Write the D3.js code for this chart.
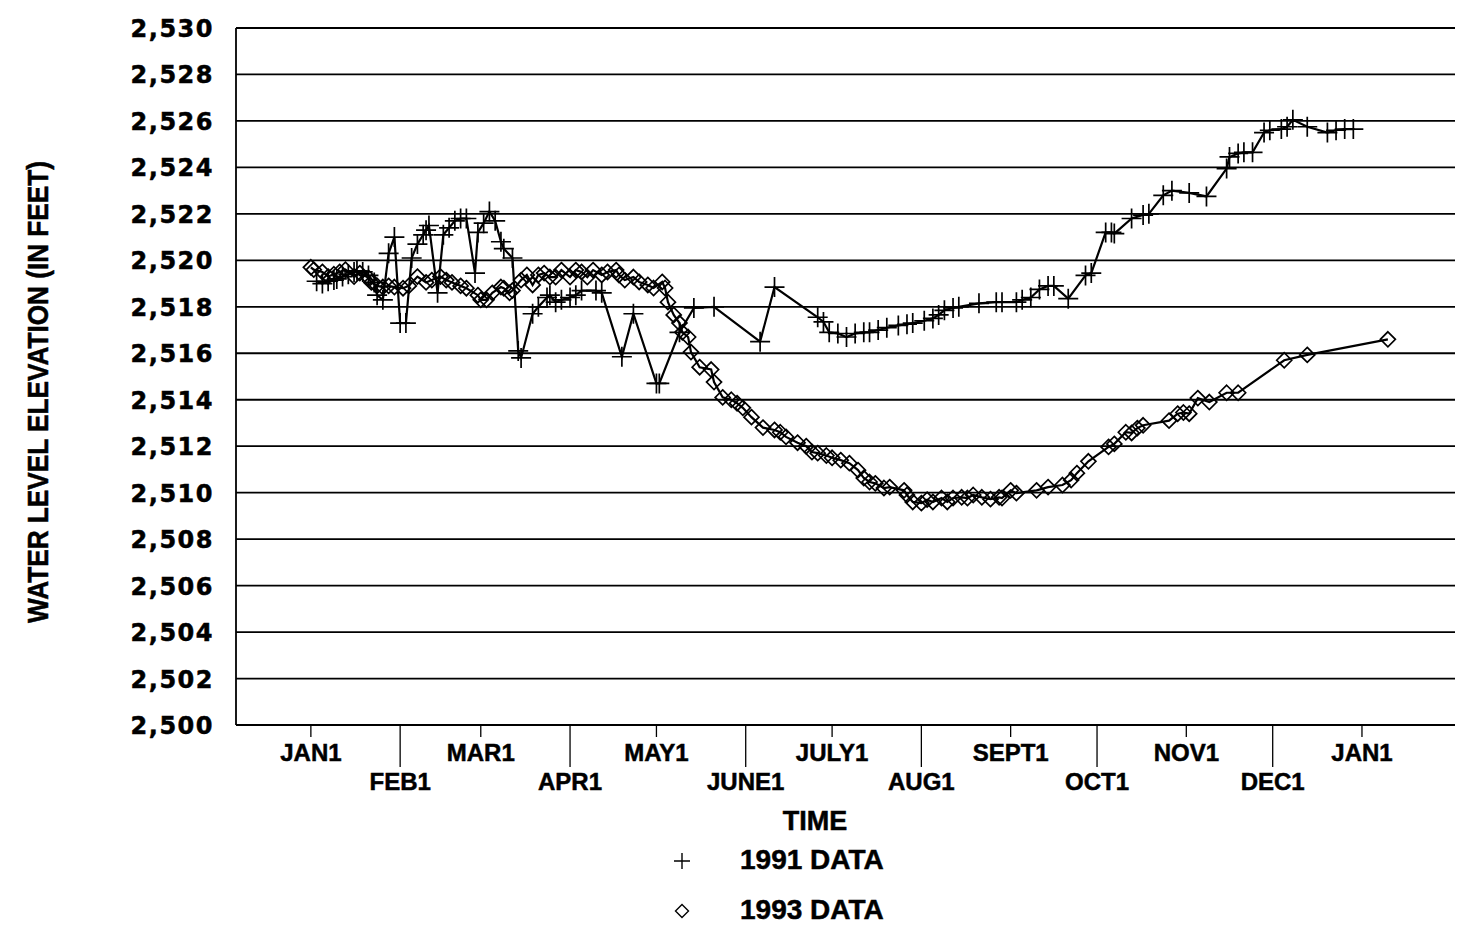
<!DOCTYPE html>
<html lang="en">
<head>
<meta charset="utf-8">
<title>Water level elevation, 1991 and 1993</title>
<script src="https://cdn.jsdelivr.net/npm/d3@7"></script>
<style>
  body { margin: 0; background: #fff; }
  text { font-family: "Liberation Sans", Arial, sans-serif; font-weight: bold; fill: #000;
         stroke: #000; stroke-width: 0.5px; }
</style>
</head>
<body>
<script>
// days after Jan 1 and water level (ft) for each year
var days1991 = [2,4,6,8,9,11,13,15,16,18, 20,22,23,25,27,29,31,33,35,37,
  39,40,41,44,46,48,50,52,54,57, 58,60,62,64,66,67,70,72,73,77,
  79,82,83,85,87,90,92,94,99,101, 108,112,120,121,128,133,140,156,161,176,
  178,180,183,186,189,192,194,197,200,204, 207,209,213,216,218,220,223,225,232,238,
  240,245,247,250,253,256,258,263,269,271, 276,278,279,285,289,291,296,299,305,311,
  318,319,322,324,327,331,333,337,339,341, 346,353,356,359,362];
var level1991 = [2519.1,2519.0,2519.1,2519.15,2519.2,2519.3,2519.4,2519.5,2519.55,2519.5,
  2519.35,2519.05,2518.5,2518.3,2520.3,2521.0,2517.3,2517.3,2520.1,2520.7,
  2521.1,2521.3,2521.5,2518.6,2521.1,2521.4,2521.7,2521.8,2521.8,2519.45,
  2521.2,2521.6,2522.1,2521.7,2520.8,2520.5,2520.1,2516.1,2515.8,2517.7,
  2518.0,2518.4,2518.5,2518.2,2518.3,2518.4,2518.5,2518.7,2518.7,2518.6,
  2515.85,2517.7,2514.7,2514.7,2516.9,2517.95,2518.0,2516.5,2518.85,2517.55,
  2517.35,2516.9,2516.85,2516.7,2516.85,2516.9,2516.9,2517.0,2517.1,2517.2,
  2517.25,2517.3,2517.4,2517.5,2517.65,2517.85,2517.95,2518.0,2518.15,2518.2,
  2518.2,2518.2,2518.3,2518.4,2518.75,2518.9,2518.9,2518.35,2519.35,2519.45,
  2521.2,2521.2,2521.15,2521.8,2521.95,2522.0,2522.8,2523.0,2522.9,2522.75,
  2523.95,2524.45,2524.6,2524.65,2524.65,2525.5,2525.6,2525.65,2525.75,2526.05,
  2525.75,2525.5,2525.6,2525.65,2525.65];

var days1993 = [0,1,4,6,8,10,12,15,17,20, 21,23,25,27,29,32,34,37,40,42,
  45,47,49,52,54,58,59,61,63,66, 67,69,70,73,75,77,79,81,83,85,
  87,90,92,94,96,98,101,103,106,107, 109,112,114,117,119,122,123,124,126,128,
  129,131,132,135,139,140,143,146,148,150, 153,157,161,163,165,169,172,174,176,179,
  181,184,187,190,192,194,196,199,201,206, 207,209,212,214,216,219,221,223,226,228,
  230,233,236,239,240,243,245,252,256,261, 264,266,270,277,279,283,285,287,289,298,
  301,303,305,308,312,318,322,338,346,374];
var level1993 = [2519.7,2519.6,2519.5,2519.3,2519.4,2519.5,2519.6,2519.3,2519.45,2519.25,
  2519.05,2518.9,2518.85,2518.9,2518.85,2518.8,2518.9,2519.3,2519.05,2519.15,
  2519.3,2519.15,2519.05,2518.9,2518.8,2518.5,2518.3,2518.3,2518.6,2518.85,
  2518.8,2518.6,2518.7,2519.15,2519.37,2518.94,2519.37,2519.45,2519.28,2519.28,
  2519.58,2519.28,2519.58,2519.5,2519.28,2519.58,2519.37,2519.5,2519.58,2519.37,
  2519.15,2519.28,2519.07,2518.94,2518.81,2519.07,2518.81,2518.2,2517.65,2517.3,
  2516.9,2516.7,2516.05,2515.4,2515.3,2514.76,2514.1,2514.0,2513.85,2513.65,
  2513.25,2512.8,2512.7,2512.6,2512.4,2512.15,2512.0,2511.75,2511.7,2511.6,
  2511.5,2511.4,2511.27,2510.97,2510.63,2510.46,2510.4,2510.2,2510.24,2510.1,
  2509.9,2509.6,2509.55,2509.7,2509.6,2509.77,2509.6,2509.77,2509.8,2509.77,
  2509.9,2509.8,2509.72,2509.8,2509.77,2510.1,2509.98,2510.1,2510.24,2510.33,
  2510.54,2510.84,2511.35,2511.97,2512.1,2512.6,2512.57,2512.78,2512.9,2513.1,
  2513.4,2513.45,2513.4,2514.07,2513.9,2514.3,2514.3,2515.7,2515.93,2516.6];

var monthLabels = ["JAN1","FEB1","MAR1","APR1","MAY1","JUNE1","JULY1",
  "AUG1","SEPT1","OCT1","NOV1","DEC1","JAN1"];
var yTicks = d3.range(2500, 2531, 2);
var seriesNames = ["1991 DATA", "1993 DATA"];

var width = 1457, height = 925;
var plotLeft = 236, plotRight = 1455, plotTop = 28, plotBottom = 725;

var svg = d3.select("body").append("svg")
    .attr("width", width)
    .attr("height", height);

var jan1 = new Date(1991, 0, 1);
var x = d3.scaleTime()
    .domain([d3.timeDay.offset(jan1, -26), d3.timeDay.offset(jan1, 398)])
    .range([plotLeft, 1457]);
var y = d3.scaleLinear().domain([2500, 2530]).range([plotBottom, plotTop]);

// horizontal grid (also the top and bottom frame)
svg.append("g").selectAll("line")
  .data(yTicks)
  .enter().append("line")
    .attr("x1", plotLeft).attr("x2", plotRight)
    .attr("y1", function(d) { return y(d); })
    .attr("y2", function(d) { return y(d); })
    .attr("stroke", "#000")
    .attr("stroke-width", 1.8);

svg.append("line")
    .attr("x1", plotLeft).attr("x2", plotLeft)
    .attr("y1", plotTop).attr("y2", plotBottom)
    .attr("stroke", "#000").attr("stroke-width", 1.8);

// y tick labels
svg.append("g").selectAll("text")
  .data(yTicks)
  .enter().append("text")
    .attr("x", 214)
    .attr("y", function(d) { return y(d) + 9; })
    .attr("text-anchor", "end")
    .style("font-family", "'DejaVu Sans', sans-serif")
    .style("font-size", "24px")
    .style("letter-spacing", "1.5px")
    .text(d3.format(","));

// month ticks, labels alternate between two rows
var months = d3.timeMonth.range(jan1, d3.timeDay.offset(jan1, 366));
var xt = svg.append("g").selectAll("g")
  .data(months)
  .enter().append("g")
    .attr("transform", function(d) { return "translate(" + x(d) + ",0)"; });
xt.append("line")
    .attr("y1", plotBottom)
    .attr("y2", function(d, i) { return i % 2 ? plotBottom + 42 : plotBottom + 12; })
    .attr("stroke", "#000").attr("stroke-width", 1.3);
xt.append("text")
    .attr("y", function(d, i) { return i % 2 ? 790 : 761; })
    .attr("text-anchor", "middle")
    .style("font-size", "24px")
    .text(function(d, i) { return monthLabels[i]; });

svg.append("text")
    .attr("x", 815).attr("y", 830)
    .attr("text-anchor", "middle")
    .style("font-size", "27px")
    .text("TIME");

svg.append("text")
    .attr("transform", "translate(48,392) rotate(-90)")
    .attr("text-anchor", "middle")
    .attr("textLength", 462)
    .attr("lengthAdjust", "spacingAndGlyphs")
    .style("font-size", "29px")
    .text("WATER LEVEL ELEVATION (IN FEET)");

var plusPath = "M-10,0H10M0,-10V10";
var diamondPath = "M0,-7.5L7.5,0L0,7.5L-7.5,0Z";

var line = d3.line()
    .x(function(d) { return x(d3.timeDay.offset(jan1, d[0])); })
    .y(function(d) { return y(d[1]); });

var pts1991 = days1991.map(function(d, i) { return [d, level1991[i]]; });
var pts1993 = days1993.map(function(d, i) { return [d, level1993[i]]; });

function drawSeries(pts, shape) {
  svg.append("path")
      .datum(pts)
      .attr("d", line)
      .attr("fill", "none")
      .attr("stroke", "#000")
      .attr("stroke-width", 2.2);
  svg.append("g").selectAll("path")
    .data(pts)
    .enter().append("path")
      .attr("transform", function(d) {
        return "translate(" + x(d3.timeDay.offset(jan1, d[0])) + "," + y(d[1]) + ")";
      })
      .attr("d", shape)
      .attr("fill", "none")
      .attr("stroke", "#000")
      .attr("stroke-width", 1.7);
}
drawSeries(pts1993, diamondPath);
drawSeries(pts1991, plusPath);

// legend
var legend = svg.append("g").selectAll("g")
  .data(seriesNames)
  .enter().append("g")
    .attr("transform", function(d, i) { return "translate(0," + (i * 50) + ")"; });
legend.append("path")
    .attr("transform", "translate(682,861)")
    .attr("d", function(d, i) { return i ? "M0,-6.5L6.5,0L0,6.5L-6.5,0Z" : "M-8,0H8M0,-8V8"; })
    .attr("fill", "none")
    .attr("stroke", "#000")
    .attr("stroke-width", 1.4);
legend.append("text")
    .attr("x", 740).attr("y", 869)
    .style("font-size", "28px")
    .text(function(d) { return d; });
</script>
</body>
</html>
